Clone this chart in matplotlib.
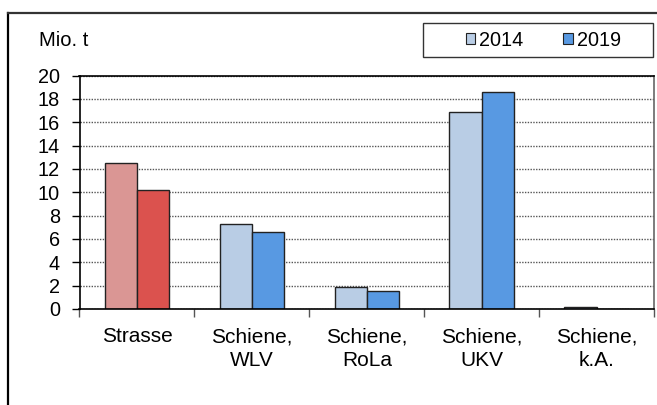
import numpy as np
import matplotlib
matplotlib.use("Agg")
import matplotlib.pyplot as plt
from matplotlib.patches import Patch, Rectangle
from matplotlib.lines import Line2D

plt.rcParams['font.family'] = ['Liberation Sans', 'DejaVu Sans']

categories = ["Strasse", "Schiene,\nWLV", "Schiene,\nRoLa", "Schiene,\nUKV", "Schiene,\nk.A."]
values_2014 = [12.5, 7.25, 1.85, 16.85, 0.2]
values_2019 = [10.15, 6.6, 1.5, 18.55, 0.0]
years = ["2014", "2019"]

# first group (road) is drawn in reds, the rail groups in blues
colors_2014 = ["#DA9694"] + ["#B9CDE5"] * 4
colors_2019 = ["#DB524E"] + ["#5899E2"] * 4

W, H = 657, 405
fig = plt.figure(figsize=(W / 100, H / 100), dpi=100)
ax = fig.add_axes([79.5 / W, 1 - 309 / H, (654 - 79.5) / W, (309 - 75.5) / H])

x = np.arange(len(categories))
bw = 0.28
ax.bar(x - bw / 2, values_2014, bw, color=colors_2014, edgecolor="#222222", linewidth=1, zorder=3)
ax.bar(x + bw / 2, values_2019, bw, color=colors_2019, edgecolor="#222222", linewidth=1, zorder=3)

ax.set_xlim(-0.5, len(categories) - 0.5)
ax.set_ylim(0, 20)
ax.set_yticks(np.arange(0, 21, 2))
ax.tick_params(axis="y", direction="out", length=6, width=1, pad=8, labelsize=14.3, color="black")

# category labels centred, ticks between the groups
ax.set_xticks(x)
ax.set_xticklabels(categories, fontsize=15, linespacing=1.3)
ax.tick_params(axis="x", which="major", length=0, pad=13)
ax.set_xticks(np.arange(len(categories) + 1) - 0.5, minor=True)
ax.tick_params(axis="x", which="minor", direction="out", length=6, width=1, color="#555555")

ax.yaxis.grid(True, linestyle=(0, (1, 1)), color="#555555", linewidth=1, zorder=0)
for s in ["left", "bottom", "top"]:
    ax.spines[s].set_color("black")
    ax.spines[s].set_linewidth(1.2)
ax.spines["right"].set_color("#666666")
ax.spines["right"].set_linewidth(1.2)
ax.spines["bottom"].set_zorder(4)

fig.text(39 / W, 1 - 41 / H, "Mio. t", fontsize=14.5, va="center", ha="left")

# legend box
fig.patches.append(Rectangle((423 / W, 1 - 57 / H), 230 / W, 34 / H, transform=fig.transFigure,
                             fill=False, edgecolor="#333333", linewidth=1))
handles = [Patch(facecolor=colors_2014[1], edgecolor="#222222", linewidth=0.8),
           Patch(facecolor=colors_2019[1], edgecolor="#222222", linewidth=0.8)]
fig.legend(handles, years, loc="center", bbox_to_anchor=(543.5 / W, 1 - 40 / H), ncol=2,
           frameon=False, fontsize=14.3, handlelength=0.5, handleheight=0.5,
           handletextpad=0.2, columnspacing=2.0, borderpad=0)

# outer frame (left and top edges visible)
fig.lines.append(Line2D([8 / W, 8 / W], [0, 1 - 13 / H], transform=fig.transFigure, color="black", linewidth=1.6))
fig.lines.append(Line2D([8 / W, 1], [1 - 13 / H, 1 - 13 / H], transform=fig.transFigure, color="#333333", linewidth=1.6))

fig.savefig("out.png", dpi=100)
